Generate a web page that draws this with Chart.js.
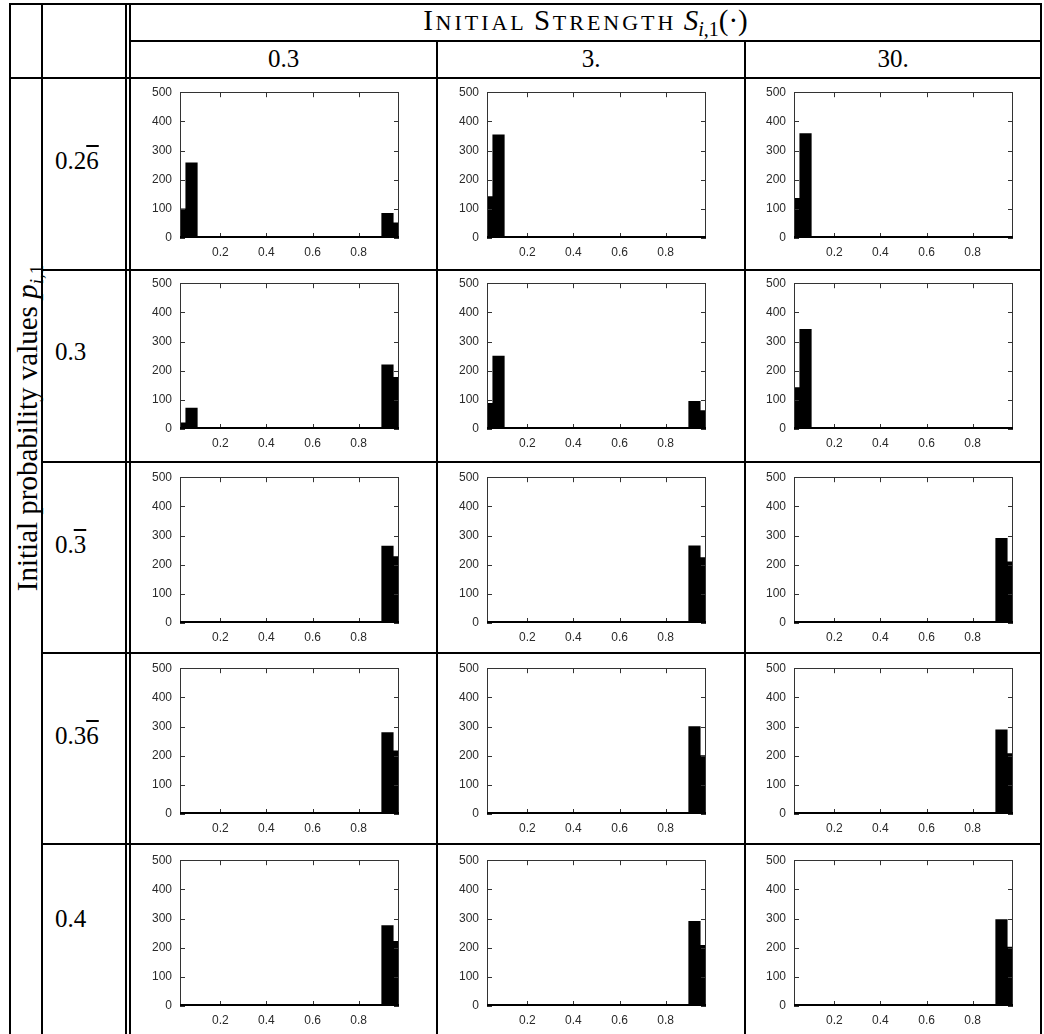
<!DOCTYPE html>
<html>
<head>
<meta charset="utf-8">
<script src="https://cdn.jsdelivr.net/npm/chart.js@4.4.1/dist/chart.umd.min.js"></script>
<style>
  html, body { margin: 0; padding: 0; background: #fff; }
  #page { position: relative; width: 1044px; height: 1034px; overflow: hidden; }
  .ln { position: absolute; background: #000; }
  .tx { position: absolute; font-family: "Liberation Serif", "Times New Roman", serif; color: #000; white-space: nowrap; }
  canvas.cell { position: absolute; }
  .ov { text-decoration: overline; text-decoration-thickness: 1.5px; }
  .cap { font-size: 29px; letter-spacing: 2.6px; }
  .sc { font-size: 22px; letter-spacing: 3px; }
</style>
</head>
<body>
<div id="page"></div>
<script>
// Histogram bin centres (bin width 0.05) and axis ticks
const binCenters = [0.025, 0.075, 0.125, 0.175, 0.225, 0.275, 0.325, 0.375, 0.425, 0.475,
                    0.525, 0.575, 0.625, 0.675, 0.725, 0.775, 0.825, 0.875, 0.925, 0.975];
const xTickValues = [0.2, 0.4, 0.6, 0.8];
const yTickValues = [0, 100, 200, 300, 400, 500];

// Column headers (initial strength) and row headers (initial probability)
const strengthLabels = ['0.3', '3.', '30.'];
const probLabels = ['0.2<span class="ov">6</span>', '0.3', '0.<span class="ov">3</span>', '0.3<span class="ov">6</span>', '0.4'];

// Counts per bin, one array per (probability, strength) cell
const p1s1 = [100, 258, 0, 0, 0, 0, 0, 0, 0, 0, 0, 0, 0, 0, 0, 0, 0, 0, 85, 52];
const p1s2 = [142, 354, 0, 0, 0, 0, 0, 0, 0, 0, 0, 0, 0, 0, 0, 0, 0, 0, 0, 0];
const p1s3 = [136, 358, 0, 0, 0, 0, 0, 0, 0, 0, 0, 0, 0, 0, 0, 0, 0, 0, 0, 0];
const p2s1 = [21, 72, 0, 0, 0, 0, 0, 0, 0, 0, 0, 0, 0, 0, 0, 0, 0, 0, 220, 177];
const p2s2 = [88, 250, 0, 0, 0, 0, 0, 0, 0, 0, 0, 0, 0, 0, 0, 0, 0, 0, 95, 63];
const p2s3 = [142, 342, 0, 0, 0, 0, 0, 0, 0, 0, 0, 0, 0, 0, 0, 0, 0, 0, 3, 0];
const p3s1 = [0, 4, 0, 0, 0, 0, 0, 0, 0, 0, 0, 0, 0, 0, 0, 0, 0, 0, 264, 228];
const p3s2 = [0, 5, 0, 0, 0, 0, 0, 0, 0, 0, 0, 0, 0, 0, 0, 0, 0, 0, 265, 224];
const p3s3 = [0, 0, 0, 0, 0, 0, 0, 0, 0, 0, 0, 0, 0, 0, 0, 0, 0, 0, 290, 210];
const p4s1 = [0, 0, 0, 0, 0, 0, 0, 0, 0, 0, 0, 0, 0, 0, 0, 0, 0, 0, 279, 217];
const p4s2 = [0, 0, 0, 0, 0, 0, 0, 0, 0, 0, 0, 0, 0, 0, 0, 0, 0, 0, 300, 200];
const p4s3 = [0, 0, 0, 0, 0, 0, 0, 0, 0, 0, 0, 0, 0, 0, 0, 0, 0, 0, 289, 207];
const p5s1 = [0, 0, 0, 0, 0, 0, 0, 0, 0, 0, 0, 0, 0, 0, 0, 0, 0, 0, 276, 222];
const p5s2 = [0, 0, 0, 0, 0, 0, 0, 0, 0, 0, 0, 0, 0, 0, 0, 0, 0, 0, 290, 208];
const p5s3 = [0, 0, 0, 0, 0, 0, 0, 0, 0, 0, 0, 0, 0, 0, 0, 0, 0, 0, 296, 202];

const grid = [
  [p1s1, p1s2, p1s3],
  [p2s1, p2s2, p2s3],
  [p3s1, p3s2, p3s3],
  [p4s1, p4s2, p4s3],
  [p5s1, p5s2, p5s3]
];

// ---- table layout ----
const page = document.getElementById('page');
function line(x, y, w, h) {
  const d = document.createElement('div');
  d.className = 'ln';
  d.style.left = x + 'px'; d.style.top = y + 'px';
  d.style.width = w + 'px'; d.style.height = h + 'px';
  page.appendChild(d);
}
function text(html, x, y, size, extra) {
  const d = document.createElement('div');
  d.className = 'tx';
  d.innerHTML = html;
  d.style.fontSize = size + 'px';
  d.style.left = x + 'px'; d.style.top = y + 'px';
  if (extra) Object.assign(d.style, extra);
  page.appendChild(d);
  return d;
}

const colLeft = [130, 437, 745];
const colRight = [437, 745, 1041];
const rowLines = [77.5, 269.5, 461.5, 652.5, 844];

// vertical rules
line(9, 3, 2, 1031);
line(41, 3, 2, 1031);
line(125, 3, 1.5, 1031);
line(129, 3, 1.5, 1031);
line(436, 41, 2, 993);
line(744, 41, 2, 993);
line(1040, 3, 2, 1031);
// horizontal rules
line(9, 3, 1033, 2);
line(130, 40, 912, 2);
line(9, 76.5, 1033, 2);
for (let i = 1; i < rowLines.length; i++) line(42, rowLines[i] - 1, 1000, 2);

// header texts
text('<span class="cap">I</span><span class="sc">NITIAL</span> <span class="cap">S</span><span class="sc">TRENGTH</span> ' +
     '<i>S</i><sub style="font-size:20px;vertical-align:-6px"><i>i</i>,1</sub>(·)', 130, 4, 29,
  { width: '911px', textAlign: 'center' });
strengthLabels.forEach((s, i) => {
  text(s, colLeft[i], 45, 25, { width: (colRight[i] - colLeft[i]) + 'px', textAlign: 'center' });
});
// row texts, centred on each histogram
const rowLabelCentre = [162, 353, 546, 737, 920];
probLabels.forEach((s, i) => {
  text(s, 55, rowLabelCentre[i] - 15, 25);
});
// rotated axis caption
text('Initial probability values <i>p</i><sub style="font-size:19px;vertical-align:-6px"><i>i</i>,1</sub>', 29, 428, 29,
  { transform: 'translate(-50%,-50%) rotate(-90deg)' });

// ---- histograms ----
Chart.defaults.font.family = '"Liberation Sans Narrow", "Liberation Sans", Arial, sans-serif';
Chart.defaults.font.size = 12;
Chart.defaults.color = '#2a2a2a';

const framePlugin = {
  id: 'frame',
  afterDatasetsDraw(chart) {
    const { ctx, chartArea: a, scales: { x, y } } = chart;
    ctx.save();
    ctx.strokeStyle = '#333';
    ctx.lineWidth = 1;
    ctx.strokeRect(Math.round(a.left) + 0.5, Math.round(a.top) + 0.5,
                   Math.round(a.right - a.left) - 1, Math.round(a.bottom - a.top) - 1);
    ctx.beginPath();
    yTickValues.forEach(v => {
      const py = Math.round(y.getPixelForValue(v)) + 0.5;
      ctx.moveTo(a.left, py); ctx.lineTo(a.left + 5, py);
      ctx.moveTo(a.right, py); ctx.lineTo(a.right - 5, py);
    });
    xTickValues.forEach(v => {
      const px = Math.round(x.getPixelForValue(v)) + 0.5;
      ctx.moveTo(px, a.bottom); ctx.lineTo(px, a.bottom - 5);
      ctx.moveTo(px, a.top); ctx.lineTo(px, a.top + 5);
    });
    ctx.stroke();
    // zero-count baseline
    ctx.strokeStyle = '#000';
    ctx.lineWidth = 2;
    ctx.beginPath();
    const p0 = y.getPixelForValue(0);
    ctx.moveTo(a.left, p0 - 1); ctx.lineTo(a.right, p0 - 1);
    ctx.stroke();
    ctx.restore();
  }
};

const plotLeft = [180, 487, 794];
const plotTop = [85, 276, 470, 661, 853];
const plotW = 219, plotH = 153;
const padL = 50, padT = 8, padR = 10, padB = 30;

grid.forEach((row, r) => {
  row.forEach((counts, c) => {
    const cv = document.createElement('canvas');
    cv.className = 'cell';
    const W = plotW + padL + padR, H = plotH + padT + padB;
    cv.width = W; cv.height = H;
    cv.style.width = W + 'px'; cv.style.height = H + 'px';
    cv.style.left = (plotLeft[c] - padL) + 'px';
    cv.style.top = (plotTop[r] - padT) + 'px';
    page.appendChild(cv);

    new Chart(cv, {
      type: 'bar',
      data: {
        datasets: [{
          data: binCenters.map((b, i) => ({ x: b, y: counts[i] })),
          backgroundColor: '#000',
          borderWidth: 0,
          barPercentage: 1,
          categoryPercentage: 1,
          clip: 0
        }]
      },
      options: {
        responsive: false,
        animation: false,
        devicePixelRatio: 1,
        layout: { padding: { top: padT, right: padR, left: 0, bottom: 0 } },
        plugins: { legend: { display: false }, tooltip: { enabled: false } },
        scales: {
          x: {
            type: 'linear', min: 0.025, max: 0.975, offset: false,
            grid: { display: false, drawTicks: false }, border: { display: false },
            ticks: { padding: 7, maxRotation: 0, autoSkip: false, callback: v => String(v) },
            afterBuildTicks: s => { s.ticks = xTickValues.map(v => ({ value: v })); },
            afterFit: s => { s.height = padB; }
          },
          y: {
            min: 0, max: 500,
            grid: { display: false, drawTicks: false }, border: { display: false },
            ticks: { padding: 8, stepSize: 100 },
            afterBuildTicks: s => { s.ticks = yTickValues.map(v => ({ value: v })); },
            afterFit: s => { s.width = padL; }
          }
        }
      },
      plugins: [framePlugin]
    });
  });
});
</script>
</body>
</html>
